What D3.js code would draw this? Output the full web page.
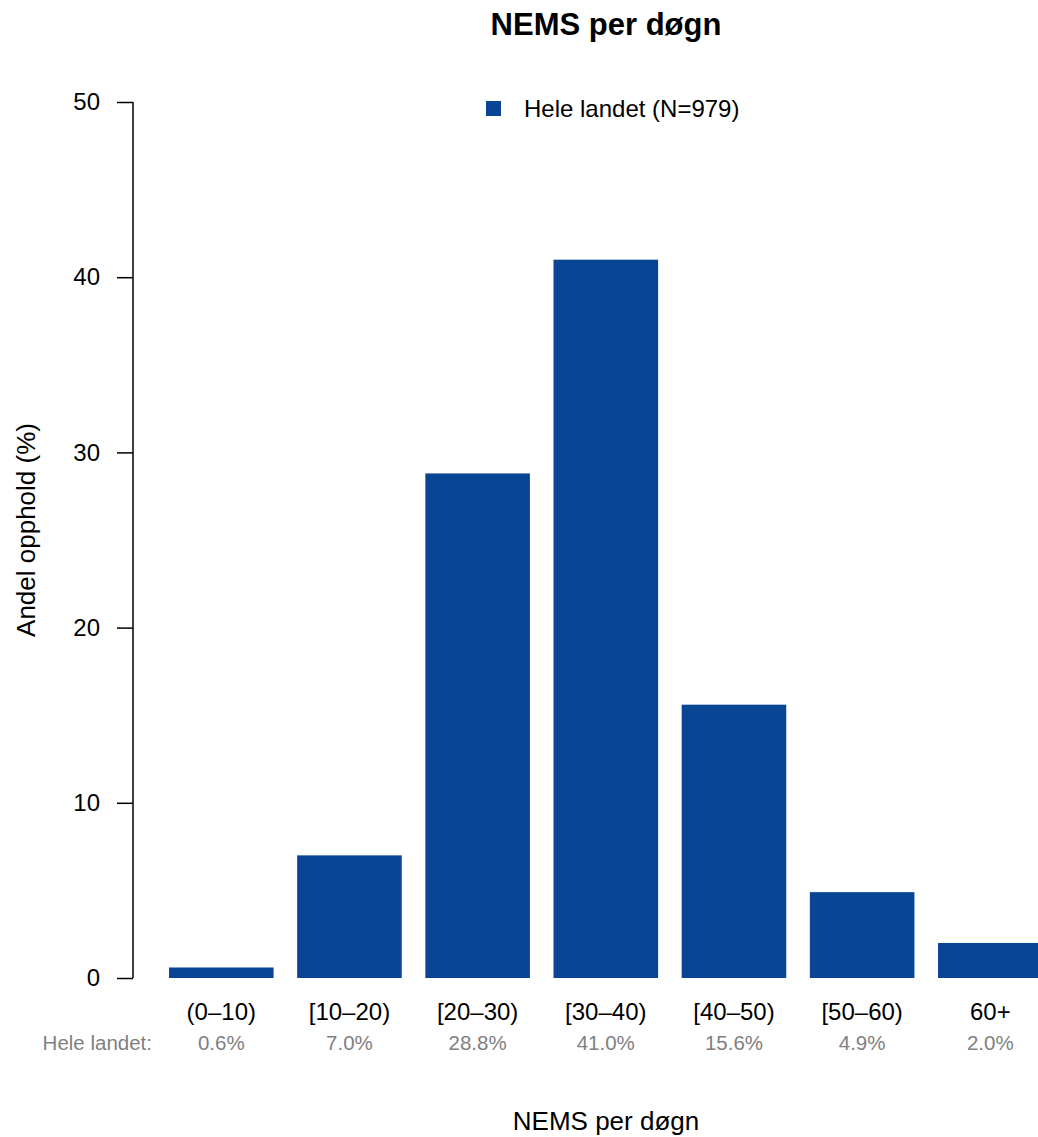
<!DOCTYPE html>
<html><head><meta charset="utf-8">
<script src="https://cdn.jsdelivr.net/npm/d3@7"></script>
<style>body{margin:0;background:#fff}svg{display:block;font-family:"Liberation Sans",Arial,Helvetica,sans-serif}</style>
</head><body>
<script>
const categories = ["(0\u201310)","[10\u201320)","[20\u201330)","[30\u201340)","[40\u201350)","[50\u201360)","60+"];
const values = [0.6, 7.0, 28.8, 41.0, 15.6, 4.9, 2.0];
const pctLabels = ["0.6%","7.0%","28.8%","41.0%","15.6%","4.9%","2.0%"];
const yTicks = [0,10,20,30,40,50];
const seriesName = "Hele landet (N=979)";
const rowLabel = "Hele landet:";
const color = "#084594";

const W=1038,H=1137;
const svg=d3.select("body").append("svg").attr("width",W).attr("height",H);

const y=d3.scaleLinear().domain([0,50]).range([978,102]);
const x=d3.scaleBand().domain(categories).range([169,1042.6]).paddingInner(0.184).paddingOuter(0);

svg.selectAll("rect.bar").data(values).join("rect").attr("class","bar")
  .attr("x",(d,i)=>x(categories[i])).attr("width",x.bandwidth())
  .attr("y",d=>y(d)).attr("height",d=>y(0)-y(d)).attr("fill",color);

const ax=svg.append("g").attr("transform","translate(133,0)")
  .call(d3.axisLeft(y).tickValues(yTicks).tickSize(16).tickPadding(17));
ax.select(".domain").attr("stroke","#000").attr("stroke-width",1.5).attr("d","M0,102V978");
ax.selectAll(".tick line").attr("stroke","#000").attr("stroke-width",1.5);
ax.selectAll(".tick text").attr("font-size",24).attr("fill","#000").attr("font-family","Liberation Sans, Arial, sans-serif");

svg.selectAll("text.cat").data(categories).join("text").attr("class","cat")
  .attr("x",d=>x(d)+x.bandwidth()/2).attr("y",1020).attr("text-anchor","middle")
  .attr("font-size",24).attr("fill","#000").text(d=>d);
svg.selectAll("text.pct").data(pctLabels).join("text").attr("class","pct")
  .attr("x",(d,i)=>x(categories[i])+x.bandwidth()/2).attr("y",1050).attr("text-anchor","middle")
  .attr("font-size",20.5).attr("fill","#808080").text(d=>d);
svg.append("text").attr("x",152).attr("y",1050).attr("text-anchor","end")
  .attr("font-size",20.5).attr("fill","#808080").text(rowLabel);

svg.append("text").attr("x",606).attr("y",35).attr("text-anchor","middle")
  .attr("font-size",31).attr("font-weight","bold").text("NEMS per d\u00f8gn");
svg.append("text").attr("x",606).attr("y",1130).attr("text-anchor","middle")
  .attr("font-size",26).text("NEMS per d\u00f8gn");
svg.append("text").attr("transform","translate(35,530) rotate(-90)").attr("text-anchor","middle")
  .attr("font-size",26).text("Andel opphold (%)");

svg.append("rect").attr("x",486).attr("y",101).attr("width",15).attr("height",15).attr("fill",color);
svg.append("text").attr("x",524).attr("y",117).attr("font-size",24).text(seriesName);
</script>
</body></html>
